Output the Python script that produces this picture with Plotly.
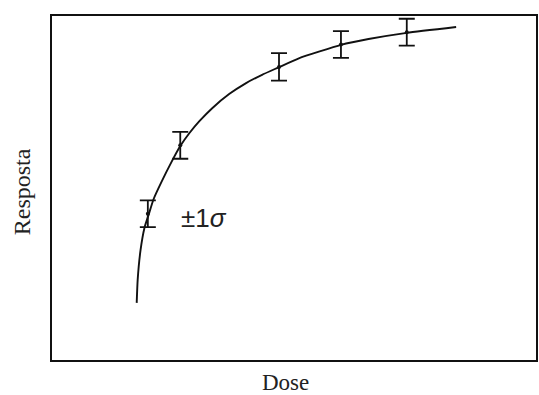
import plotly.graph_objects as go

# Measured points (Dose, Resposta) with ±1σ error
dose_pts = [19.8, 26.5, 46.9, 59.7, 73.3]
resp_pts = [42.5, 62.4, 85.2, 91.7, 95.3]
sigma = [3.9, 3.9, 4.0, 3.9, 3.9]

# Fitted curve
curve_dose = [17.5, 17.7, 18.3, 19.1, 20.0, 21.0, 22.6, 24.7, 26.5, 28.4,
              30.5, 33.1, 36.6, 40.1, 43.4, 46.7, 51.0, 59.7, 65.4, 73.3, 83.5]
curve_resp = [16.6, 23.3, 32.0, 38.4, 42.4, 46.8, 51.7, 57.6, 62.2, 66.0,
              69.5, 73.2, 77.3, 80.5, 82.9, 85.0, 87.7, 91.6, 93.3, 95.1, 96.8]

fig = go.Figure()
fig.add_trace(go.Scatter(
    x=curve_dose, y=curve_resp, mode="lines",
    line=dict(color="#111", width=1.9, shape="spline", smoothing=0.5),
    hoverinfo="skip", showlegend=False))
fig.add_trace(go.Scatter(
    x=dose_pts, y=resp_pts, mode="markers",
    marker=dict(color="#111", size=4),
    error_y=dict(type="data", array=sigma, visible=True,
                 color="#111", thickness=1.8, width=8),
    showlegend=False))

fig.add_annotation(x=31.5, y=41.3, xref="x", yref="y", text="±1<i>σ</i>",
                   showarrow=False,
                   font=dict(family="Liberation Sans", size=26, color="#222"))
fig.add_annotation(x=0.4815, y=-0.066, xref="paper", yref="paper", text="Dose",
                   showarrow=False, xanchor="center", yanchor="middle",
                   font=dict(family="Liberation Serif", size=23, color="#222"))
fig.add_annotation(x=-0.0617, y=0.488, xref="paper", yref="paper", text="Resposta",
                   showarrow=False, textangle=-90, xanchor="center", yanchor="middle",
                   font=dict(family="Liberation Serif", size=24, color="#222"))

axis_common = dict(showgrid=False, zeroline=False, showticklabels=False, ticks="",
                   showline=True, mirror=True, linecolor="#111", linewidth=1.6)
fig.update_xaxes(range=[0, 100], **axis_common)
fig.update_yaxes(range=[0, 100], **axis_common)

fig.update_layout(width=539, height=395,
                  margin=dict(l=52, r=1, t=16, b=35),
                  paper_bgcolor="white", plot_bgcolor="white")

fig.write_html("out.html")
